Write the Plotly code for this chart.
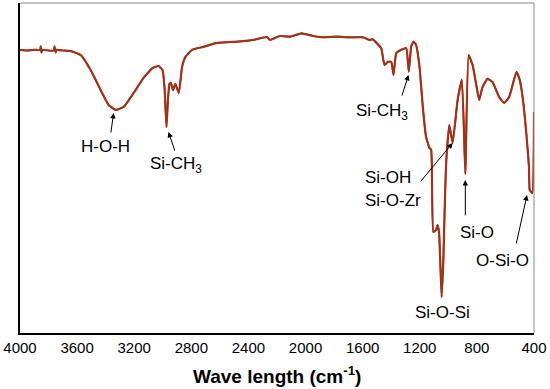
import plotly.graph_objects as go

# FTIR spectrum (wavenumber cm-1, transmittance a.u.)
wavenumber = [4000, 3950, 3900, 3858, 3855, 3850, 3845, 3800, 3762, 3758, 3750, 3745, 3700, 3650,
              3574, 3505, 3435, 3379, 3330, 3274, 3205, 3135, 3072, 3030, 3002, 2988, 2974, 2964,
              2953, 2943, 2928, 2912, 2888, 2865, 2842, 2795, 2716, 2621, 2505, 2367, 2270, 2249,
              2179, 2109, 2028, 1947, 1877, 1784, 1691, 1598, 1551, 1528, 1505, 1470, 1447, 1423,
              1400, 1384, 1365, 1330, 1295, 1277, 1260, 1244, 1226, 1202, 1179, 1156, 1132, 1120,
              1105, 1086, 1076, 1065, 1047, 1035, 1024, 1014, 993, 970, 935, 905, 881, 858, 830,
              807, 784, 761, 726, 691, 644, 609, 574, 523, 500, 477, 454, 435, 430, 412, 400]
transmittance = [85.8, 85.6, 85.8, 85.8, 86.9, 85.0, 85.8, 85.6, 85.6, 86.9, 85.0, 85.8, 85.6, 85.5,
                 84.2, 79.7, 73.6, 69.1, 67.6, 68.5, 72.7, 77.3, 80.3, 80.9, 79.7, 74.5, 62.4, 70.6,
                 75.5, 75.8, 73.6, 75.5, 72.7, 80.6, 83.6, 85.8, 86.7, 87.9, 88.2, 88.8, 89.7, 88.8,
                 90.0, 89.8, 90.8, 90.0, 89.6, 89.8, 89.6, 89.6, 88.8, 89.0, 88.0, 86.3, 81.2, 82.2,
                 82.2, 78.2, 84.8, 85.8, 86.3, 79.2, 86.8, 88.3, 87.3, 80.7, 68.6, 59.4, 56.1, 55.5,
                 30.6, 31.2, 32.7, 30.6, 10.9, 22.1, 40.3, 52.4, 63.0, 57.6, 70.6, 76.7, 48.2, 84.2,
                 81.2, 75.8, 70.6, 74.5, 77.0, 76.1, 71.5, 69.7, 71.5, 79.1, 76.7, 70.6, 60.6, 50.3,
                 43.3, 42.4, 67.0]

tick_values = [4000, 3600, 3200, 2800, 2400, 2000, 1600, 1200, 800, 400]
tick_labels = ["4000", "3600", "3200", "2800", "2400", "2000", "1600", "1200", "800", "400"]

# labels: (text, x, y, xanchor)
labels = [
    ("H-O-H", 3400, 56.4, "center"),
    ("Si-CH<sub>3</sub>", 2905, 51.0, "center"),
    ("Si-CH<sub>3</sub>", 1467, 67.0, "center"),
    ("Si-OH", 1600, 47.0, "left"),
    ("Si-O-Zr", 1600, 40.3, "left"),
    ("Si-O", 798, 30.6, "center"),
    ("O-Si-O", 623, 22.1, "center"),
    ("Si-O-Si", 1042, 6.1, "center"),
]
# arrows: (tail x, tail y, head x, head y)
arrows = [
    (3365, 60.3, 3344, 66.7),
    (2912, 54.8, 2960, 60.9),
    (1328, 71.5, 1279, 78.2),
    (1202, 45.5, 970, 57.6),
    (881, 35.2, 881, 46.4),
    (526, 26.7, 449, 41.8),
]

FONT = "Liberation Sans, Arial, sans-serif"

fig = go.Figure()
fig.add_trace(go.Scatter(x=wavenumber, y=transmittance, mode="lines",
                         line=dict(color="#d8281c", width=2.2, shape="spline", smoothing=0.4),
                         hoverinfo="skip"))
fig.add_trace(go.Scatter(x=wavenumber, y=transmittance, mode="lines",
                         line=dict(color="#8e3a1a", width=1.6, shape="spline", smoothing=0.4)))

for text, x, y, xa in labels:
    fig.add_annotation(x=x, y=y, text=text, showarrow=False, xanchor=xa, yanchor="middle",
                       font=dict(family=FONT, size=17, color="black"))
for tx, ty, hx, hy in arrows:
    fig.add_annotation(x=hx, y=hy, ax=tx, ay=ty, axref="x", ayref="y", text="",
                       showarrow=True, arrowhead=2, arrowsize=1.1, arrowwidth=1, arrowcolor="black")

fig.add_annotation(x=0.5, y=-0.127, xref="paper", yref="paper", showarrow=False,
                   text="<b>Wave length (cm<sup>-1</sup>)</b>", xanchor="center", yanchor="middle",
                   font=dict(family=FONT, size=19, color="black"))

# top and right frame lines (gray)
fig.add_shape(type="line", xref="paper", yref="paper", x0=0, x1=1, y0=1, y1=1,
              line=dict(color="#8a8a8a", width=1))
fig.add_shape(type="line", xref="paper", yref="paper", x0=1, x1=1, y0=0, y1=1,
              line=dict(color="#8a8a8a", width=1))

fig.update_layout(
    width=550, height=389,
    margin=dict(l=19, r=15, t=3, b=56),
    paper_bgcolor="white", plot_bgcolor="white",
    showlegend=False,
    xaxis=dict(range=[4000, 400], tickvals=tick_values, ticktext=tick_labels,
               showgrid=False, zeroline=False, showline=True, linecolor="black", linewidth=1.5,
               ticks="", tickfont=dict(family=FONT, size=15, color="black")),
    yaxis=dict(range=[0, 100], showgrid=False, zeroline=False, showline=True,
               linecolor="black", linewidth=1.5, ticks="", showticklabels=False),
)

fig.write_html("out.html", config={"displayModeBar": False},
               post_script="document.body.style.margin='0px';document.body.style.overflow='hidden';")
